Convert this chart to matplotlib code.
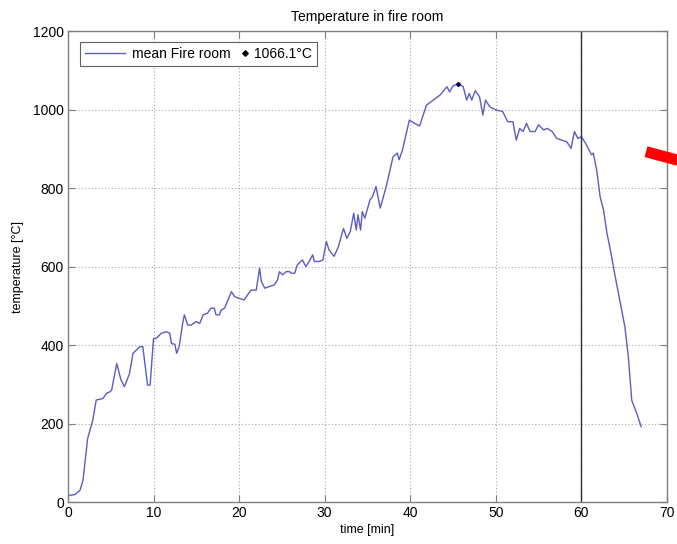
import numpy as np
import matplotlib
matplotlib.use("Agg")
import matplotlib.pyplot as plt
from matplotlib.lines import Line2D
from matplotlib.legend_handler import HandlerBase

plt.rcParams['font.family'] = ['Liberation Sans', 'DejaVu Sans']

# mean temperature in the fire room, read every ~0.5 min
time_min = [0, 0.8, 1.4, 1.75, 2.3, 2.9, 3.3, 4.1, 4.5, 4.9,
            5.1, 5.7, 6.2, 6.6, 7.2, 7.6, 8.4, 8.75, 9.3, 9.6,
            10.0, 10.3, 10.9, 11.5, 11.9, 12.1, 12.5, 12.7, 13.0, 13.4,
            13.6, 14.0, 14.4, 15.0, 15.4, 15.8, 16.3, 16.7, 17.1, 17.3,
            17.7, 17.9, 18.3, 18.7, 19.1, 19.5, 20.0, 20.6, 21.0, 21.4,
            22.0, 22.4, 22.6, 23.0, 23.5, 24.1, 24.5, 24.7, 25.1, 25.5,
            25.9, 26.1, 26.5, 26.8, 27.2, 27.4, 27.8, 28.2, 28.6, 28.8,
            29.4, 29.8, 30.2, 30.5, 31.1, 31.6, 32.2, 32.6, 33.0, 33.4,
            33.7, 33.9, 34.2, 34.4, 34.7, 35.3, 35.6, 36.0, 36.5, 37.2,
            38.0, 38.5, 38.7, 39.1, 39.9, 40.5, 41.1, 41.9, 42.7, 43.5,
            44.3, 44.6, 45.0, 45.6, 46.2, 46.6, 46.9, 47.2, 47.6, 48.1,
            48.5, 48.8, 49.3, 50.0, 50.8, 51.4, 52.0, 52.4, 52.8, 53.2,
            53.6, 54.0, 54.6, 55.0, 55.6, 56.0, 56.6, 57.1, 57.7, 58.3,
            58.8, 59.2, 59.6, 60.0, 60.5, 60.9, 61.2, 61.4, 61.8, 62.2,
            62.6, 63.0, 63.4, 63.9, 64.5, 65.1, 65.5, 65.9, 66.5, 67.0]
temp_c = [17, 19, 30, 55, 162, 209, 260, 264, 277, 281,
          285, 353, 311, 294, 328, 379, 396, 396, 298, 298,
          417, 417, 430, 434, 430, 404, 402, 379, 396, 455,
          477, 451, 451, 460, 455, 477, 481, 494, 494, 477,
          477, 489, 494, 515, 536, 523, 519, 515, 528, 540,
          540, 596, 562, 545, 549, 553, 566, 587, 579, 587,
          587, 583, 583, 604, 613, 617, 600, 613, 630, 613,
          613, 617, 664, 643, 626, 650, 697, 672, 689, 736,
          693, 732, 693, 740, 723, 770, 778, 804, 749, 804,
          880, 889, 872, 897, 973, 965, 958, 1011, 1024, 1037,
          1058, 1045, 1060, 1066.1, 1058, 1024, 1041, 1024, 1048, 1033,
          986, 1024, 1007, 999, 995, 969, 969, 922, 952, 944,
          965, 944, 944, 961, 948, 952, 944, 927, 922, 918,
          901, 944, 926, 931, 914, 897, 885, 889, 846, 778,
          744, 685, 642, 582, 514, 446, 370, 259, 225, 192]
mark_time = 60

xticks = list(range(0, 71, 10))
yticks = list(range(0, 1201, 200))


class DiamondHandler(HandlerBase):
    # marker drawn at the right end of the handle box, close to its label
    def create_artists(self, legend, orig_handle, xdescent, ydescent,
                       width, height, fontsize, trans):
        m = Line2D([width - 0.2 * fontsize], [height / 2 - ydescent],
                   marker='D', ms=2.8, color='k', linestyle='none',
                   transform=trans)
        return [m]


fig = plt.figure(figsize=(6.77, 5.44), dpi=100)
ax = fig.add_axes([0.1004, 0.077, 0.8846, 0.866])

line, = ax.plot(time_min, temp_c, color='#5c5cc2', lw=1.0)
i_max = int(np.argmax(temp_c))
peak, = ax.plot(time_min[i_max], temp_c[i_max], 'D', ms=2.0,
                color='#000060', linestyle='none')
ax.axvline(mark_time, color='#303030', lw=1.0)

ax.set_xlim(0, 70)
ax.set_ylim(0, 1200)
ax.set_xticks(xticks)
ax.set_yticks(yticks)
ax.grid(True, linestyle=(0, (1, 2)), color='#a8a8a8', lw=0.8)
ax.tick_params(direction='in', top=True, right=True, length=5,
               color='#808080', labelsize=10, pad=3)
for s in ax.spines.values():
    s.set_color('#808080')
    s.set_linewidth(1.0)

ax.set_title('Temperature in fire room', fontsize=10, pad=7)
ax.set_xlabel('time [min]', fontsize=9, labelpad=3)
ax.set_ylabel('temperature [°C]', fontsize=9, labelpad=6)

leg = ax.legend([line, peak],
                ['mean Fire room', '%.1f°C' % temp_c[i_max]],
                handler_map={peak: DiamondHandler()},
                loc='upper left', bbox_to_anchor=(0.02, 0.977),
                ncols=2, fontsize=10, handlelength=2.9, handletextpad=0.5,
                columnspacing=-1.7, borderpad=0.35, borderaxespad=0,
                fancybox=False, framealpha=1, edgecolor='#606060')
leg.get_frame().set_linewidth(0.8)

# red pointer bar on the right edge
fig.add_artist(Line2D([646 / 677, 690 / 677],
                      [1 - 151.7 / 544, 1 - 163.5 / 544],
                      color='#ff0000', lw=8, solid_capstyle='butt'))

fig.savefig('out.png', dpi=100)
